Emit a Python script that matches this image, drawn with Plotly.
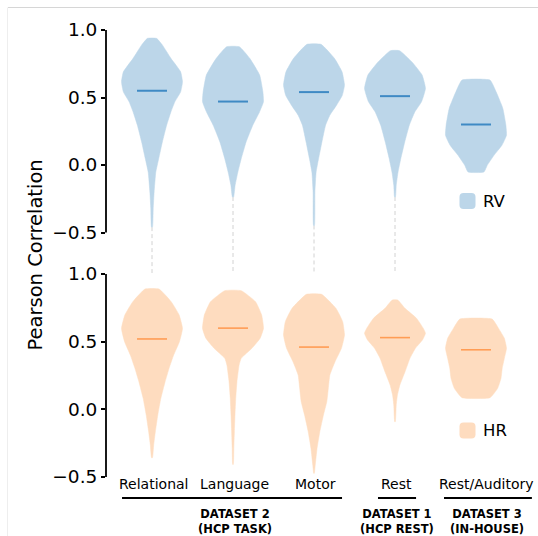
import plotly.graph_objects as go

categories = ["Relational", "Language", "Motor", "Rest", "Rest/Auditory"]

# Violin outlines: correlation levels (top to bottom) and relative density width at each level
rv_levels = [
    [0.938, 0.889, 0.79, 0.69, 0.616, 0.542, 0.468, 0.393, 0.295, 0.171, 0.047, -0.052, -0.2, -0.324, -0.46],
    [0.876, 0.79, 0.666, 0.542, 0.468, 0.393, 0.295, 0.171, 0.047, -0.052, -0.15, -0.237],
    [0.894, 0.79, 0.69, 0.592, 0.517, 0.443, 0.369, 0.295, 0.171, 0.047, -0.052, -0.2, -0.448],
    [0.847, 0.765, 0.666, 0.567, 0.468, 0.393, 0.295, 0.171, 0.047, -0.052, -0.151, -0.237],
    [0.629, 0.542, 0.419, 0.295, 0.22, 0.146, 0.072, -0.002, -0.052],
]
rv_density = [
    [0.15, 0.34, 0.62, 0.94, 1.0, 0.94, 0.75, 0.62, 0.48, 0.34, 0.22, 0.125, 0.07, 0.04, 0.016],
    [0.21, 0.55, 0.875, 0.98, 1.0, 0.87, 0.65, 0.43, 0.27, 0.16, 0.07, 0.02],
    [0.23, 0.67, 0.92, 1.0, 0.93, 0.74, 0.52, 0.38, 0.26, 0.15, 0.07, 0.03, 0.015],
    [0.15, 0.55, 0.89, 1.0, 0.87, 0.65, 0.47, 0.32, 0.19, 0.10, 0.04, 0.015],
    [0.46, 0.66, 0.88, 0.98, 1.0, 0.85, 0.59, 0.37, 0.26],
]
hr_levels = [
    [0.889, 0.795, 0.697, 0.598, 0.5, 0.401, 0.303, 0.204, 0.081, -0.042, -0.166, -0.264, -0.358],
    [0.877, 0.795, 0.697, 0.598, 0.525, 0.451, 0.377, 0.327, 0.204, 0.081, -0.042, -0.166, -0.289, -0.407],
    [0.85, 0.746, 0.648, 0.549, 0.451, 0.352, 0.254, 0.155, 0.056, -0.042, -0.166, -0.289, -0.412, -0.473],
    [0.808, 0.746, 0.672, 0.598, 0.562, 0.512, 0.451, 0.377, 0.278, 0.18, 0.106, 0.032, -0.092],
    [0.667, 0.598, 0.525, 0.451, 0.377, 0.303, 0.229, 0.155, 0.086],
]
hr_density = [
    [0.23, 0.63, 0.89, 1.0, 0.9, 0.71, 0.56, 0.43, 0.29, 0.19, 0.11, 0.055, 0.015],
    [0.27, 0.74, 0.94, 1.0, 0.89, 0.62, 0.27, 0.2, 0.13, 0.09, 0.065, 0.045, 0.027, 0.01],
    [0.25, 0.72, 0.94, 1.0, 0.9, 0.69, 0.52, 0.47, 0.42, 0.31, 0.19, 0.1, 0.04, 0.01],
    [0.09, 0.33, 0.71, 0.93, 1.0, 0.9, 0.67, 0.49, 0.33, 0.16, 0.08, 0.04, 0.01],
    [0.53, 0.74, 0.93, 1.0, 0.93, 0.86, 0.82, 0.71, 0.46],
]
rv_median = [0.55, 0.47, 0.54, 0.51, 0.30]
hr_median = [0.52, 0.60, 0.46, 0.53, 0.44]

groups = [
    ("DATASET 2", "(HCP TASK)", -0.37, 2.346, 1.02),
    ("DATASET 1", "(HCP REST)", 2.79, 3.26, 3.02),
    ("DATASET 3", "(IN-HOUSE)", 3.605, 4.69, 4.14),
]

# ---- styling / geometry ----
W, H = 538, 536
ML, MR, MT, MB = 106, 2, 27, 59
PW, PH = W - ML - MR, H - MT - MB
HALF = 0.3765          # max violin half-width (x units)
MED_HALF = 0.185       # median bar half-width
BLUE_FILL, BLUE_LINE = "#bcd6e9", "#3f8ac4"
ORANGE_FILL, ORANGE_LINE = "#fedcbf", "#ff9d55"
FONT = "DejaVu Sans"


def px_x(p):
    return (p - ML) / PW


def px_y(p):
    return (H - MB - p) / PH


fig = go.Figure()


def add_violins(levels, density, medians, fill, line, yaxis, med_w):
    for i, (lv, dn) in enumerate(zip(levels, density)):
        xs = [i + d * HALF for d in dn] + [i - d * HALF for d in reversed(dn)]
        ys = list(lv) + list(reversed(lv))
        fig.add_trace(go.Scatter(
            x=xs + [xs[0]], y=ys + [ys[0]], mode="lines", fill="toself",
            fillcolor=fill, line=dict(color=fill, width=0.5, shape="spline", smoothing=0.4),
            hoverinfo="skip", showlegend=False, yaxis=yaxis))
        fig.add_trace(go.Scatter(
            x=[i - MED_HALF, i + MED_HALF], y=[medians[i], medians[i]], mode="lines",
            line=dict(color=line, width=med_w), showlegend=False, yaxis=yaxis))


# dashed guides below the upper violins
for i in range(4):
    fig.add_trace(go.Scatter(
        x=[i, i], y=[min(rv_levels[i]), -0.8], mode="lines",
        line=dict(color="#d2d2d2", width=1, dash="4px,3px"),
        showlegend=False, hoverinfo="skip", yaxis="y2"))

add_violins(rv_levels, rv_density, rv_median, BLUE_FILL, BLUE_LINE, "y2", 2)
add_violins(hr_levels, hr_density, hr_median, ORANGE_FILL, ORANGE_LINE, "y", 1.6)

yax_common = dict(
    showline=False, showgrid=False, zeroline=False, ticks="outside",
    tickvals=[-0.5, 0.0, 0.5, 1.0], tickformat=".1f", ticklen=4, tickwidth=1.8,
    tickcolor="black", tickfont=dict(size=18.5, color="black", family=FONT), anchor="x")

fig.update_layout(
    width=W, height=H, margin=dict(l=ML, r=MR, t=MT, b=MB),
    paper_bgcolor="white", plot_bgcolor="white",
    font=dict(family=FONT, color="black"),
    xaxis=dict(range=[-46 / 81, 384 / 81], visible=False),
    yaxis=dict(domain=[0, 203 / PH], range=[-0.5, 1.0], **yax_common),
    yaxis2=dict(domain=[204 / PH, 1.0], range=[-0.8, 1.0222], **yax_common),
)

shapes = []
# left spines spanning -0.5 .. 1.0 in each panel
for yr in ("y", "y2"):
    shapes.append(dict(type="line", xref="x domain", yref=yr, x0=0, x1=0, y0=-0.5, y1=1.0,
                       line=dict(color="black", width=1.8)))
# group underlines
for _, _, x0, x1, _ in groups:
    shapes.append(dict(type="line", xref="x", yref="paper", x0=x0, x1=x1,
                       y0=px_y(498), y1=px_y(498), line=dict(color="black", width=1.8)))
# outer frame
shapes.append(dict(type="line", xref="paper", yref="paper", x0=px_x(8), x1=1.05,
                   y0=px_y(7.5), y1=px_y(7.5), line=dict(color="#d6d6d6", width=1)))
shapes.append(dict(type="line", xref="paper", yref="paper", x0=px_x(7.5), x1=px_x(7.5),
                   y0=px_y(7.5), y1=-0.2, line=dict(color="#eeeeee", width=1)))
# legend swatches (rounded squares)
sq = "M -8,-4 Q -8,-8 -4,-8 L 4,-8 Q 8,-8 8,-4 L 8,4 Q 8,8 4,8 L -4,8 Q -8,8 -8,4 Z"
for cy, col in ((201, BLUE_FILL), (430.5, ORANGE_FILL)):
    shapes.append(dict(type="path", path=sq, xsizemode="pixel", ysizemode="pixel",
                       xref="paper", yref="paper", xanchor=px_x(467.5), yanchor=px_y(cy),
                       fillcolor=col, line=dict(width=0)))
fig.update_layout(shapes=shapes)

ann = []
ann.append(dict(text="Pearson Correlation", xref="paper", yref="paper", x=px_x(22), y=px_y(255),
                textangle=-90, showarrow=False, font=dict(size=19.5, color="black")))
for i, c in enumerate(categories):
    ann.append(dict(text=c, xref="x", yref="paper", x=i, y=px_y(484), yanchor="middle",
                    xshift=10 if i == 4 else 1, showarrow=False, font=dict(size=14, color="black")))
for l1, l2, _, _, xc in groups:
    ann.append(dict(text=f"<b>{l1}</b><br><b>{l2}</b>", xref="x", yref="paper", x=xc,
                    y=px_y(505), yanchor="top", showarrow=False,
                    font=dict(size=11.5, color="black")))
for cy, lab in ((201, "RV"), (430.5, "HR")):
    ann.append(dict(text=lab, xref="paper", yref="paper", x=px_x(481), y=px_y(cy),
                    xanchor="left", yanchor="middle", showarrow=False,
                    font=dict(size=16.5, color="black")))
fig.update_layout(annotations=ann)

fig.write_html("out.html")
